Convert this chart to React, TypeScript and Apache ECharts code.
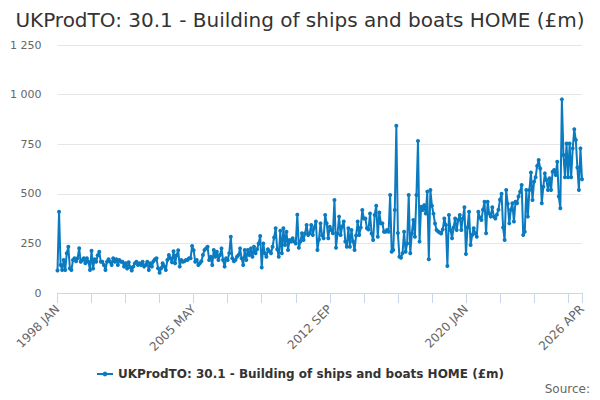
import React, { useEffect, useRef } from "react";
import * as echarts from "echarts";

const TITLE = "UKProdTO: 30.1 - Building of ships and boats HOME (£m)";
const MONTHS = ["JAN", "FEB", "MAR", "APR", "MAY", "JUN", "JUL", "AUG", "SEP", "OCT", "NOV", "DEC"];
const START_YEAR = 1998;

const values1998_2002 = [
  113, 410, 141, 116, 166, 116, 200, 233, 124, 116, 166, 175,
  160, 175, 226, 158, 165, 175, 150, 175, 158, 116, 213, 124,
  170, 158, 190, 208, 158, 158, 141, 116, 158, 170, 158, 141,
  175, 158, 170, 141, 166, 158, 158, 133, 150, 124, 155, 130,
  113, 133, 150, 158, 141, 150, 141, 158, 133, 141, 158, 116,
];
const values2003_2007 = [
  150, 133, 160, 170, 175, 125, 102, 125, 150, 135, 116, 166,
  191, 175, 155, 210, 150, 190, 215, 133, 166, 158, 160, 166,
  166, 175, 175, 237, 215, 158, 166, 141, 150, 160, 191, 217,
  225, 233, 166, 183, 141, 217, 183, 208, 166, 191, 225, 166,
  133, 175, 166, 200, 284, 175, 160, 166, 183, 191, 225, 175,
];
const values2008_2012 = [
  141, 217, 166, 217, 191, 225, 183, 233, 200, 220, 250, 287,
  129, 250, 200, 183, 220, 210, 200, 233, 280, 326, 220, 183,
  314, 200, 326, 242, 309, 217, 267, 259, 276, 259, 250, 395,
  228, 260, 301, 267, 300, 343, 292, 301, 343, 292, 330, 360,
  217, 270, 351, 290, 276, 393, 351, 276, 334, 318, 301, 469,
];
const values2013_2017 = [
  228, 300, 385, 292, 335, 360, 260, 233, 326, 233, 318, 260,
  217, 290, 360, 292, 330, 418, 376, 376, 326, 320, 401, 300,
  267, 393, 440, 284, 406, 351, 351, 309, 309, 318, 309, 494,
  208, 217, 418, 843, 302, 183, 178, 200, 309, 208, 250, 494,
  200, 300, 368, 284, 494, 766, 259, 435, 418, 443, 401, 511,
];
const values2018_2022 = [
  170, 519, 440, 400, 350, 318, 310, 305, 300, 320, 376, 343,
  136, 393, 318, 276, 330, 376, 318, 368, 393, 318, 376, 432,
  197, 330, 410, 242, 292, 326, 300, 284, 410, 380, 368, 420,
  460, 301, 460, 400, 385, 432, 385, 375, 395, 420, 470, 500,
  330, 267, 519, 450, 351, 420, 452, 360, 460, 452, 486, 511,
];
const values2023_2026 = [
  544, 292, 309, 519, 385, 519, 607, 469, 561, 583, 640, 670,
  628, 452, 536, 603, 570, 519, 578, 519, 611, 620, 595, 662,
  486, 427, 976, 696, 583, 754, 583, 754, 583, 729, 825, 771,
  633, 519, 729, 573,
];

const seriesValues = [
  ...values1998_2002,
  ...values2003_2007,
  ...values2008_2012,
  ...values2013_2017,
  ...values2018_2022,
  ...values2023_2026,
];

const categories = seriesValues.map((_, i) => {
  const y = START_YEAR + Math.floor(i / 12);
  return `${y} ${MONTHS[i % 12]}`;
});

const Y_MAX = 1250;
const Y_INTERVAL = 250;
const LABEL_STEP = 88;
const TICK_STEP = 22;

const FONT = "DejaVu Sans";

function fmtThousands(v: number): string {
  if (v >= 1000) {
    const th = Math.floor(v / 1000);
    const rest = String(v % 1000).padStart(3, "0");
    return `${th} ${rest}`;
  }
  return String(v);
}

export default function App() {
  const ref = useRef<HTMLDivElement>(null);
  useEffect(() => {
    document.body.style.margin = "0";
    if (!ref.current) return;
    const chart = echarts.init(ref.current, undefined, { renderer: "svg" });
    const last = categories.length - 1;
    chart.setOption({
      animation: false,
      backgroundColor: "#ffffff",
      textStyle: { fontFamily: FONT },
      title: {
        text: TITLE,
        left: "center",
        top: 5,
        textStyle: { fontFamily: FONT, fontSize: 20, fontWeight: "normal", color: "#333333" },
      },
      legend: {
        bottom: 15,
        left: "center",
        itemWidth: 16,
        itemHeight: 6,
        itemGap: 6,
        textStyle: { fontFamily: FONT, fontSize: 12, fontWeight: "bold", color: "#333333" },
        data: [TITLE],
      },
      graphic: [
        {
          type: "text",
          right: 10,
          top: 383,
          style: { text: "Source:", fontFamily: FONT, fontSize: 12, fill: "#666666" },
        },
      ],
      grid: { left: 57.5, right: 18, top: 45, bottom: 107 },
      xAxis: {
        type: "category",
        data: categories,
        boundaryGap: false,
        axisLine: { show: true, lineStyle: { color: "#ccd6eb", width: 1 } },
        axisTick: {
          show: true,
          length: 10,
          interval: (i: number) => i % TICK_STEP === 0 || i === last,
          lineStyle: { color: "#ccd6eb" },
        },
        axisLabel: {
          interval: (i: number) => i % LABEL_STEP === 0 || i === last,
          rotate: 45,
          margin: 14,
          fontFamily: FONT,
          fontSize: 12,
          color: "#666666",
          showMaxLabel: true,
        },
        splitLine: { show: false },
      },
      yAxis: {
        type: "value",
        min: 0,
        max: Y_MAX,
        interval: Y_INTERVAL,
        axisLine: { show: false },
        axisTick: { show: false },
        axisLabel: {
          margin: 16,
          fontFamily: FONT,
          fontSize: 11,
          color: "#666666",
          formatter: (v: number) => fmtThousands(v),
        },
        splitLine: { show: true, lineStyle: { color: "#e6e6e6", width: 1 } },
      },
      series: [
        {
          name: TITLE,
          type: "line",
          data: seriesValues,
          showAllSymbol: true,
          symbol: "circle",
          symbolSize: 4,
          color: "#0b7bc1",
          lineStyle: { width: 2, color: "#0b7bc1" },
          itemStyle: { color: "#0b7bc1" },
        },
      ],
    });
    return () => chart.dispose();
  }, []);
  return <div ref={ref} style={{ width: 600, height: 400 }} />;
}
